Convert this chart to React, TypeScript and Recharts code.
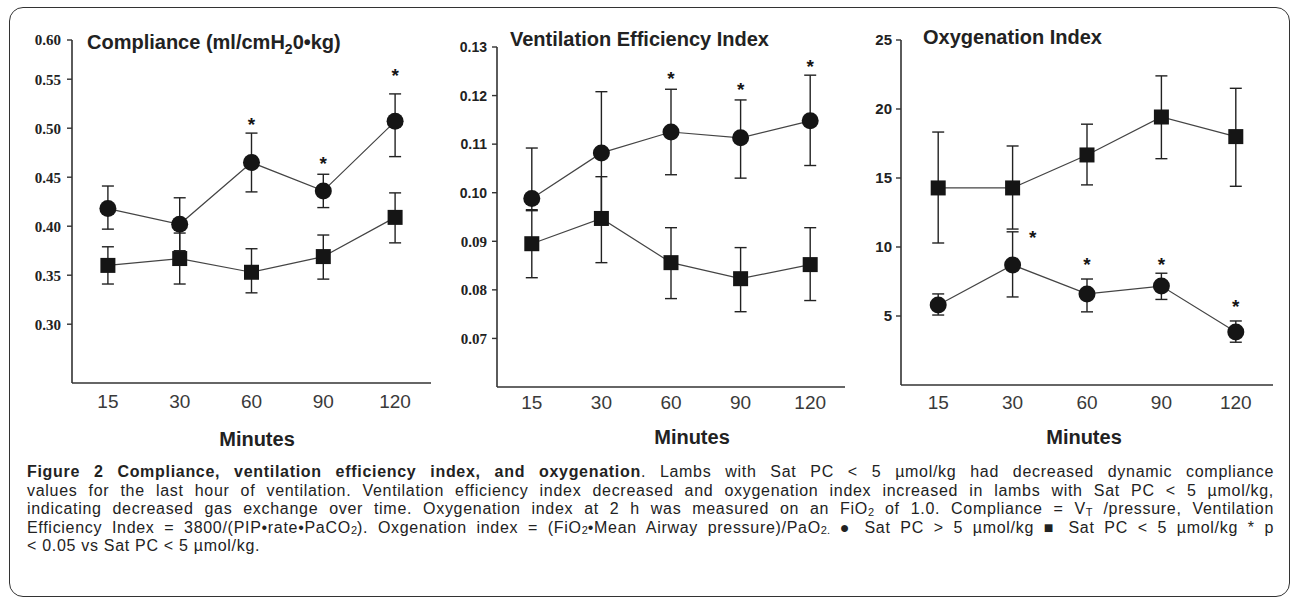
import React from 'react';
import { LineChart, Line, XAxis, YAxis, ErrorBar } from 'recharts';

// ---------- data ----------
const minutes = ['15', '30', '60', '90', '120'];

// Compliance (ml/cmH2O·kg)
const complianceAbove = [0.418, 0.402, 0.465, 0.436, 0.507]; // Sat PC > 5 (circles)
const complianceAboveUpper = [0.441, 0.429, 0.495, 0.453, 0.535];
const complianceAboveLower = [0.397, 0.375, 0.435, 0.419, 0.471];
const complianceBelow = [0.36, 0.367, 0.353, 0.369, 0.409]; // Sat PC < 5 (squares)
const complianceBelowUpper = [0.379, 0.393, 0.377, 0.391, 0.434];
const complianceBelowLower = [0.341, 0.341, 0.332, 0.346, 0.383];
const complianceSig = [false, false, true, true, true];
const complianceTicks = [0.3, 0.35, 0.4, 0.45, 0.5, 0.55, 0.59];
const complianceTickLabels = ['0.30', '0.35', '0.40', '0.45', '0.50', '0.55', '0.60'];

// Ventilation Efficiency Index
const veiAbove = [0.0988, 0.1082, 0.1125, 0.1113, 0.1148];
const veiAboveUpper = [0.1092, 0.1208, 0.1213, 0.1191, 0.1242];
const veiAboveLower = [0.0963, 0.0956, 0.1037, 0.103, 0.1056];
const veiBelow = [0.0895, 0.0947, 0.0856, 0.0823, 0.0852];
const veiBelowUpper = [0.0965, 0.1033, 0.0928, 0.0887, 0.0928];
const veiBelowLower = [0.0825, 0.0856, 0.0782, 0.0755, 0.0778];
const veiSig = [false, false, true, true, true];
const veiTicks = [0.07, 0.08, 0.09, 0.1, 0.11, 0.12, 0.13];
const veiTickLabels = ['0.07', '0.08', '0.09', '0.10', '0.11', '0.12', '0.13'];

// Oxygenation Index
const oiAbove = [5.8, 8.7, 6.6, 7.17, 3.84];
const oiAboveUpper = [6.6, 11.1, 7.68, 8.1, 4.64];
const oiAboveLower = [5.07, 6.38, 5.3, 6.2, 3.1];
const oiBelow = [14.28, 14.28, 16.67, 19.42, 18.0];
const oiBelowUpper = [18.33, 17.32, 18.9, 22.4, 21.5];
const oiBelowLower = [10.29, 11.3, 14.5, 16.4, 14.4];
const oiSig = [false, true, true, true, true];
const oiTicks = [5, 10, 15, 20, 25];
const oiTickLabels = ['5', '10', '15', '20', '25'];

// ---------- helpers ----------
function buildRows(
  a: number[], aU: number[], aL: number[],
  b: number[], bU: number[], bL: number[],
  sig: boolean[]
) {
  return minutes.map((m, i) => ({
    minute: m,
    above: a[i],
    aboveErr: [a[i] - aL[i], aU[i] - a[i]],
    below: b[i],
    belowErr: [b[i] - bL[i], bU[i] - b[i]],
    star: sig[i] ? aU[i] : null,
  }));
}

const INK = '#151515';

type PanelProps = {
  left: number;
  axisX: number;
  plotRight: number;
  plotTop: number;
  plotBottom: number;
  domain: [number, number];
  ticks: number[];
  tickLabels: string[];
  tickFont: (v: number) => { family: string; size: number };
  yLabelGap: number;
  xTickMargin: number;
  rows: any[];
  starDx: number[];
  starLift: number[];
};

function Panel(p: PanelProps) {
  const yWidth = p.axisX - p.left;
  const width = p.plotRight - p.left;
  const height = p.plotBottom + 40;
  const pad = (p.plotRight - p.axisX) / 10;

  const renderYTick = (props: any) => {
    const { x, y, payload } = props;
    const idx = p.ticks.indexOf(payload.value);
    const f = p.tickFont(payload.value);
    return (
      <text
        x={x}
        y={y}
        dy="0.36em"
        textAnchor="end"
        fontFamily={f.family}
        fontWeight="bold"
        fontSize={f.size}
        fill="#222"
      >
        {idx >= 0 ? p.tickLabels[idx] : payload.value}
      </text>
    );
  };

  const squareDot = (props: any) => {
    const { cx, cy, index } = props;
    if (cx == null || cy == null) return <g key={`sq-${index}`} />;
    return <rect key={`sq-${index}`} x={cx - 7.5} y={cy - 7.5} width={15} height={15} fill={INK} />;
  };

  const starDot = (props: any) => {
    const { cx, cy, index } = props;
    if (cx == null || cy == null || props.value == null) return <g key={`st-${index}`} />;
    const cyStar = cy - p.starLift[index];
    return (
      <text
        key={`st-${index}`}
        x={cx + p.starDx[index]}
        y={cyStar + 10}
        textAnchor="middle"
        fontFamily="Liberation Sans"
        fontWeight="bold"
        fontSize={19}
        fill={INK}
      >
        *
      </text>
    );
  };

  return (
    <div style={{ position: 'absolute', left: p.left, top: 0 }}>
      <LineChart
        width={width}
        height={height}
        data={p.rows}
        margin={{ top: p.plotTop, right: 0, left: 0, bottom: 10 }}
      >
        <XAxis
          dataKey="minute"
          height={30}
          padding={{ left: pad, right: pad }}
          tickLine={false}
          tickMargin={p.xTickMargin}
          axisLine={{ stroke: '#333', strokeWidth: 1.6 }}
          tick={{ fontFamily: 'Liberation Sans', fontSize: 19, fill: '#3a3a3a' }}
          interval={0}
        />
        <YAxis
          width={yWidth}
          domain={p.domain}
          ticks={p.ticks}
          type="number"
          allowDataOverflow
          tickSize={5}
          tickMargin={p.yLabelGap}
          tickLine={{ stroke: '#333', strokeWidth: 1.4 }}
          axisLine={{ stroke: '#333', strokeWidth: 1.6 }}
          tick={renderYTick}
          interval={0}
        />
        <Line
          dataKey="below"
          stroke="#444"
          strokeWidth={1.2}
          dot={squareDot}
          activeDot={false}
          isAnimationActive={false}
        >
          <ErrorBar dataKey="belowErr" direction="y" width={6} stroke="#222" strokeWidth={1.4} />
        </Line>
        <Line
          dataKey="above"
          stroke="#444"
          strokeWidth={1.2}
          dot={{ r: 8.5, fill: INK, stroke: INK, strokeWidth: 0 }}
          activeDot={false}
          isAnimationActive={false}
        >
          <ErrorBar dataKey="aboveErr" direction="y" width={6} stroke="#222" strokeWidth={1.4} />
        </Line>
        <Line
          dataKey="star"
          stroke="none"
          dot={starDot}
          activeDot={false}
          connectNulls={false}
          isAnimationActive={false}
        />
      </LineChart>
    </div>
  );
}

const titleStyle: React.CSSProperties = {
  position: 'absolute',
  fontFamily: 'Liberation Sans, Arial, sans-serif',
  fontWeight: 'bold',
  fontSize: 20,
  lineHeight: '22px',
  color: '#222',
  whiteSpace: 'nowrap',
};

const minutesStyle: React.CSSProperties = {
  position: 'absolute',
  width: 140,
  textAlign: 'center',
  fontFamily: 'Liberation Sans, Arial, sans-serif',
  fontWeight: 'bold',
  fontSize: 20,
  lineHeight: '24px',
  color: '#222',
};

const capLine: React.CSSProperties = {
  height: 18.6,
  lineHeight: '18.6px',
  textAlign: 'justify',
  textAlignLast: 'justify' as any,
};

const subStyle: React.CSSProperties = {
  fontSize: 11,
  letterSpacing: 0,
  verticalAlign: 'baseline',
  position: 'relative',
  top: 1.5,
  lineHeight: 0,
};

function Sub({ children }: { children: React.ReactNode }) {
  return <span style={subStyle}>{children}</span>;
}

export default function App() {
  const rows1 = buildRows(complianceAbove, complianceAboveUpper, complianceAboveLower, complianceBelow, complianceBelowUpper, complianceBelowLower, complianceSig);
  const rows2 = buildRows(veiAbove, veiAboveUpper, veiAboveLower, veiBelow, veiBelowUpper, veiBelowLower, veiSig);
  const rows3 = buildRows(oiAbove, oiAboveUpper, oiAboveLower, oiBelow, oiBelowUpper, oiBelowLower, oiSig);

  return (
    <div style={{ position: 'absolute', left: 0, top: 0, width: 1292, height: 598, background: '#fff', overflow: 'hidden' }}>
      <div
        style={{
          position: 'absolute',
          left: 9,
          top: 7,
          width: 1281,
          height: 590,
          boxSizing: 'border-box',
          border: '1.5px solid #333',
          borderRadius: 14,
        }}
      />

      <Panel
        left={2}
        axisX={72}
        plotRight={431}
        plotTop={40}
        plotBottom={383}
        domain={[0.24, 0.59]}
        ticks={complianceTicks}
        tickLabels={complianceTickLabels}
        tickFont={() => ({ family: 'Liberation Serif', size: 15 })}
        yLabelGap={6}
        xTickMargin={6}
        rows={rows1}
        starDx={[0, 0, 0, 0, 0]}
        starLift={[15, 15, 12, 14, 22]}
      />
      <Panel
        left={427}
        axisX={497}
        plotRight={845}
        plotTop={47}
        plotBottom={387}
        domain={[0.06, 0.13]}
        ticks={veiTicks}
        tickLabels={veiTickLabels}
        tickFont={(v) => (v >= 0.095 ? { family: 'Liberation Sans', size: 14 } : { family: 'Liberation Serif', size: 15 })}
        yLabelGap={5}
        xTickMargin={3}
        rows={rows2}
        starDx={[0, 0, 0, 0, 0]}
        starLift={[14, 14, 14, 14, 12]}
      />
      <Panel
        left={831}
        axisX={901}
        plotRight={1273}
        plotTop={40}
        plotBottom={385}
        domain={[0, 25]}
        ticks={oiTicks}
        tickLabels={oiTickLabels}
        tickFont={() => ({ family: 'Liberation Sans', size: 15 })}
        yLabelGap={4}
        xTickMargin={5}
        rows={rows3}
        starDx={[0, 20, 0, 0, 0]}
        starLift={[15, -2, 18, 12, 18]}
      />

      <div style={{ ...titleStyle, left: 87, top: 31 }}>
        Compliance (ml/cmH<sub style={{ fontSize: '0.7em', lineHeight: 0 }}>2</sub>0•kg)
      </div>
      <div style={{ ...titleStyle, left: 510, top: 28 }}>Ventilation Efficiency Index</div>
      <div style={{ ...titleStyle, left: 923, top: 26 }}>Oxygenation Index</div>

      <div style={{ ...minutesStyle, left: 257 - 70, top: 439 - 12 }}>Minutes</div>
      <div style={{ ...minutesStyle, left: 692 - 70, top: 437 - 12 }}>Minutes</div>
      <div style={{ ...minutesStyle, left: 1084 - 70, top: 437 - 12 }}>Minutes</div>

      <div
        style={{
          position: 'absolute',
          left: 27,
          top: 463,
          width: 1247,
          fontFamily: '"Liberation Sans", Arial, sans-serif',
          fontSize: 16,
          letterSpacing: 0.7,
          color: '#222',
        }}
      >
        <div style={capLine}>
          <b>Figure 2 Compliance, ventilation efficiency index, and oxygenation</b>. Lambs with Sat PC &lt; 5 µmol/kg had decreased dynamic compliance
        </div>
        <div style={capLine}>
          values for the last hour of ventilation. Ventilation efficiency index decreased and oxygenation index increased in lambs with Sat PC &lt; 5 µmol/kg,
        </div>
        <div style={capLine}>
          indicating decreased gas exchange over time. Oxygenation index at 2 h was measured on an FiO<Sub>2</Sub> of 1.0. Compliance = V<Sub>T</Sub> /pressure, Ventilation
        </div>
        <div style={capLine}>
          Efficiency Index = 3800/(PIP•rate•PaCO<Sub>2</Sub>). Oxgenation index = (FiO<Sub>2</Sub>•Mean Airway pressure)/PaO<Sub>2.</Sub> ● Sat PC &gt; 5 µmol/kg ■ Sat PC &lt; 5 µmol/kg * p
        </div>
        <div style={{ ...capLine, textAlignLast: 'left' as any }}>&lt; 0.05 vs Sat PC &lt; 5 µmol/kg.</div>
      </div>
    </div>
  );
}
